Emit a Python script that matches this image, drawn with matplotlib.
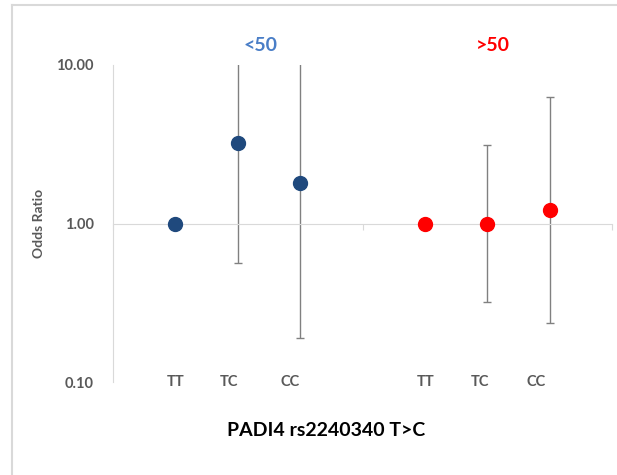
import matplotlib.pyplot as plt
from matplotlib.lines import Line2D
import numpy as np

plt.rcParams['font.family'] = ['Lato', 'DejaVu Sans']

# Data
genotypes = ['TT', 'TC', 'CC']
x_young = [1, 2, 3]
x_old = [5, 6, 7]
or_young = [1.00, 3.21, 1.79]
lo_young = [1.00, 0.567, 0.19]
hi_young = [1.00, 18.0, 25.0]   # upper limits run off the top of the axis
or_old = [1.00, 1.00, 1.21]
lo_old = [1.00, 0.32, 0.236]
hi_old = [1.00, 3.12, 6.3]
label_pos_young = [1.01, 1.86, 2.84]
label_pos_old = [5.02, 5.88, 6.79]

BLUE = '#1F497D'
RED = '#FF0000'
GRAY_TXT = '#595959'
GRID = '#D9D9D9'

fig = plt.figure(figsize=(6.17, 4.75), dpi=100)
ax = fig.add_axes([113 / 617, 1 - 382 / 475, (612 - 113) / 617, (382 - 65) / 475])


def draw_group(x, vals, lo, hi, color):
    vals = np.array(vals)
    err = [vals - np.array(lo), np.array(hi) - vals]
    ax.errorbar(x, vals, yerr=err, fmt='none', ecolor='#808080', elinewidth=1,
                capsize=3, capthick=1, zorder=2)
    ax.plot(x, vals, 'o', color=color, markersize=10, zorder=3)


draw_group(x_young, or_young, lo_young, hi_young, BLUE)
draw_group(x_old, or_old, lo_old, hi_old, RED)

ax.set_yscale('log')
ax.set_ylim(0.1, 10)
ax.set_xlim(0, 8)
ax.set_yticks([0.1, 1, 10])
ax.set_yticklabels(['0.10', '1.00', '10.00'])
ax.yaxis.set_minor_locator(plt.NullLocator())
ax.tick_params(axis='y', length=0, pad=14, labelsize=10.5, labelcolor=GRAY_TXT)
for t in ax.get_yticklabels():
    t.set_fontweight('bold')

# x axis crosses at 1, like the Excel chart
ax.spines['bottom'].set_position(('data', 1))
ax.spines['bottom'].set_color(GRID)
ax.spines['left'].set_color(GRID)
ax.spines['top'].set_visible(False)
ax.spines['right'].set_visible(False)
ax.set_xticks([0, 4, 8])
ax.set_xticklabels(['', '', ''])
ax.tick_params(axis='x', length=4, color=GRID, direction='out')

ax.set_ylabel('Odds Ratio', fontsize=10, fontweight='bold', color=GRAY_TXT, labelpad=8)

# category labels along the bottom
for pos, lab in zip(label_pos_young + label_pos_old, genotypes + genotypes):
    ax.text(pos, 0.1, lab, ha='center', va='center', fontsize=10.5,
            fontweight='bold', color=GRAY_TXT)

tr = ax.get_xaxis_transform()
ax.text(2.36, 1.063, '<50', transform=tr, ha='center', va='center',
        fontsize=14, fontweight='bold', color='#4A7EC7')
ax.text(6.09, 1.063, '>50', transform=tr, ha='center', va='center',
        fontsize=14, fontweight='bold', color=RED)

fig.text(326 / 617, 1 - 430 / 475, 'PADI4 rs2240340 T>C', ha='center', va='center',
         fontsize=14, fontweight='bold', color='black')

# light frame on top and left
fig.add_artist(Line2D([12 / 617, 12 / 617], [0, 1 - 5 / 475], color=GRID, lw=1.5))
fig.add_artist(Line2D([12 / 617, 1], [1 - 5 / 475, 1 - 5 / 475], color=GRID, lw=1.5))

fig.savefig('out.png', dpi=100)
